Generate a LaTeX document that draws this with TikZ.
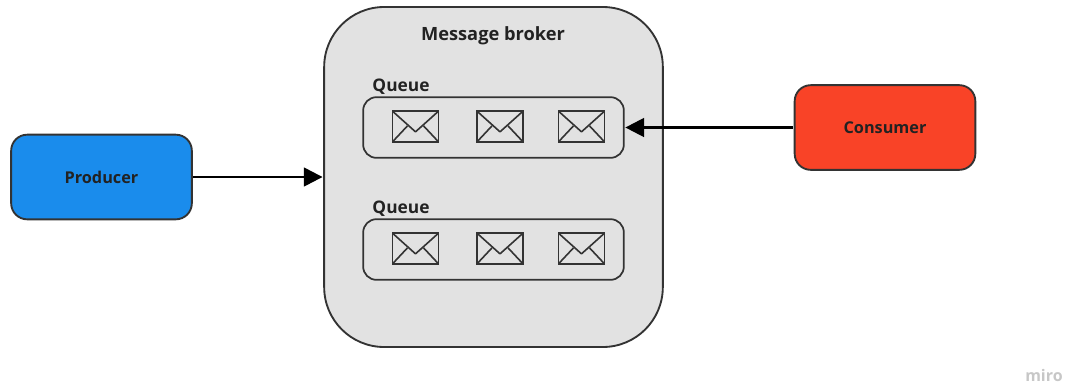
\documentclass[tikz,border=0pt]{standalone}
\usepackage{fontspec}
\setmainfont{Open Sans}
\usetikzlibrary{arrows.meta}
\definecolor{edgecol}{HTML}{333333}
\definecolor{brokerfill}{HTML}{E2E2E2}
\definecolor{prodfill}{HTML}{1A8CEC}
\definecolor{consfill}{HTML}{F94327}
\definecolor{labcol}{HTML}{222222}
\tikzset{
  actor/.style={draw=edgecol,line width=1.4pt,rounded corners=12pt,minimum width=135.5pt,minimum height=63.5pt,font=\bfseries\fontsize{12.2}{14}\selectfont,text=labcol},
  brokerbox/.style={draw=edgecol,fill=brokerfill,line width=1.4pt,rounded corners=45pt,minimum width=254pt,minimum height=255pt,inner sep=0pt},
  queuebox/.style={draw=edgecol,line width=1.3pt,rounded corners=10pt,minimum width=195.5pt,minimum height=45.5pt,inner sep=0pt},
  titlelab/.style={inner sep=0pt,font=\bfseries\fontsize{13.7}{16}\selectfont,text=labcol},
  lab/.style={inner sep=0pt,font=\bfseries\fontsize{13}{15}\selectfont,text=labcol},
  envelope/.style={draw=edgecol,line width=1.3pt,minimum width=34.5pt,minimum height=23pt,inner sep=0pt,
    path picture={
      \draw[edgecol,line width=1.2pt,line join=round]
        (path picture bounding box.north west) -- ([yshift=-15.5pt]path picture bounding box.north) -- (path picture bounding box.north east);
      \draw[edgecol,line width=1.2pt]
        (path picture bounding box.south west) -- ([xshift=-6pt,yshift=-11pt]path picture bounding box.north);
      \draw[edgecol,line width=1.2pt]
        (path picture bounding box.south east) -- ([xshift=6pt,yshift=-11pt]path picture bounding box.north);
    }},
  link/.style={draw=black,line width=1.8pt,-{Triangle[length=14pt,width=14pt]},shorten >=0.5pt,shorten <=0.5pt}
}
\begin{document}
\begin{tikzpicture}[x=0.75pt,y=-0.75pt]
\useasboundingbox (0,0) rectangle (1065,383);
\node[brokerbox] (broker) at (493.5,177) {};
\node[queuebox] (q1) at (493.5,127.5) {};
\node[queuebox] (q2) at (493.5,249.5) {};
\node[titlelab] (title) at (493,35.5) {Message broker};
\node[lab] (ql1) at (401,87) {Queue};
\node[lab] (ql2) at (401,209) {Queue};
\node[envelope] (e11) at (415.5,126.5) {};
\node[envelope] (e12) at (500,126.5) {};
\node[envelope] (e13) at (581.5,126.5) {};
\node[envelope] (e21) at (415.5,248.5) {};
\node[envelope] (e22) at (500,248.5) {};
\node[envelope] (e23) at (581.5,248.5) {};
\node[actor,fill=prodfill] (producer) at (101.5,177) {Producer};
\node[actor,fill=consfill] (consumer) at (885,127.5) {Consumer};
\draw[link] (producer.east) -- (broker.west);
\draw[link] (consumer.west) -- (q1.east);
\node[inner sep=0pt,font=\bfseries\fontsize{12}{14}\selectfont,text=black!22] (miro) at (1044,375) {miro};
\end{tikzpicture}
\end{document}
